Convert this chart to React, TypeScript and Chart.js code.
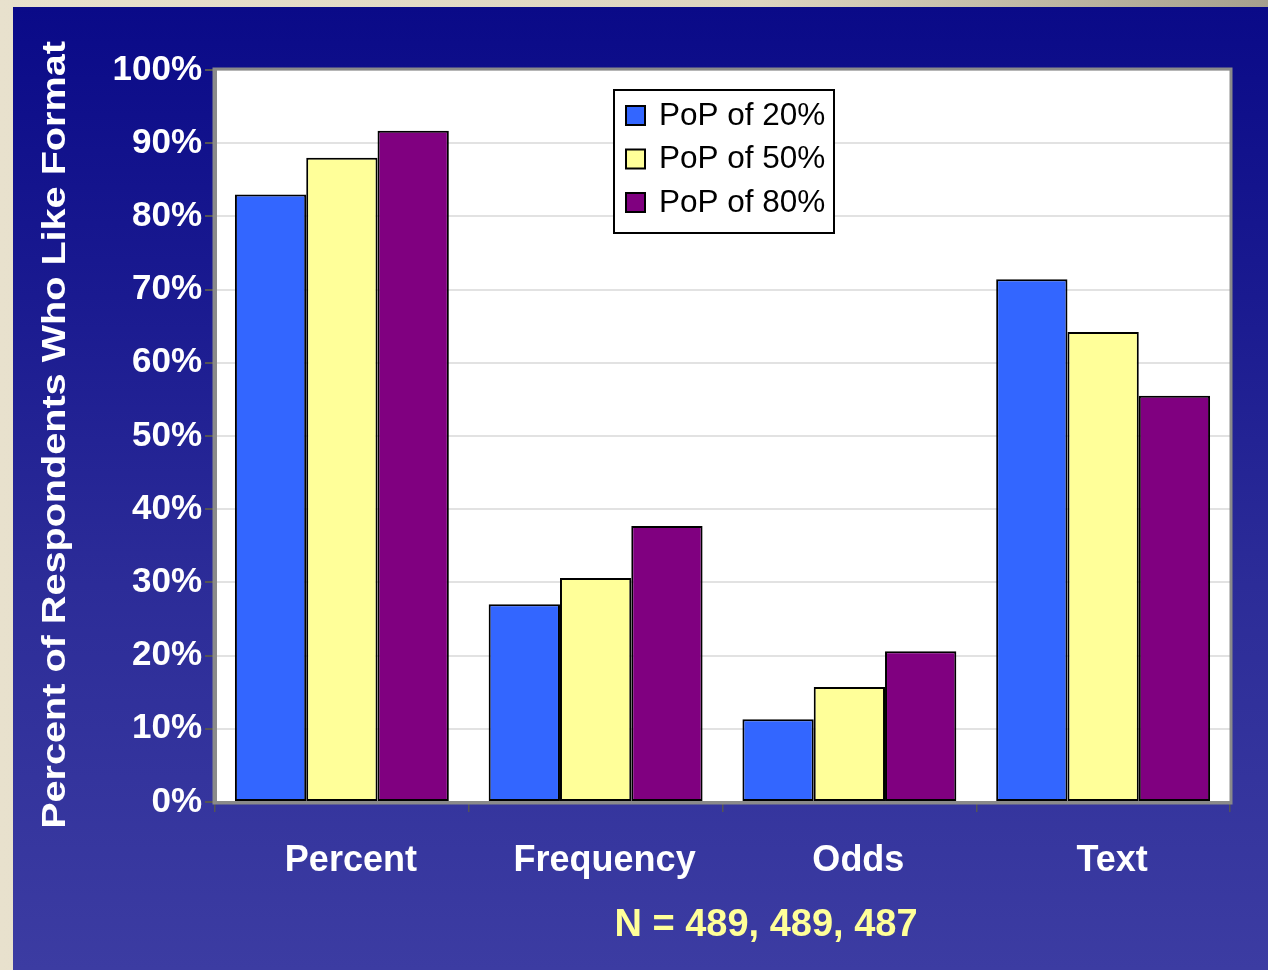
import React, { useEffect, useRef } from "react";
import { Chart, registerables } from "chart.js";

Chart.register(...registerables);

const categories = ["Percent", "Frequency", "Odds", "Text"];
const pop20 = [83, 27, 11.3, 71.4];
const pop50 = [88, 30.6, 15.7, 64.2];
const pop80 = [91.7, 37.7, 20.6, 55.5];
const seriesLabels = ["PoP of 20%", "PoP of 50%", "PoP of 80%"];
const seriesColors = ["#3366ff", "#ffff99", "#800080"];
const yTitle = "Percent of Respondents Who Like Format";
const noteText = "N = 489, 489, 487";

const FONT = "'Liberation Sans', Arial, sans-serif";

const plotBgPlugin = {
  id: "plotBg",
  beforeDraw(chart: any) {
    const { ctx, chartArea: a } = chart;
    ctx.save();
    ctx.fillStyle = "#ffffff";
    ctx.fillRect(a.left, a.top, a.right - a.left, a.bottom - a.top);
    ctx.restore();
  },
  afterDraw(chart: any) {
    const { ctx, chartArea: a } = chart;
    ctx.save();
    ctx.strokeStyle = "#8a8a8a";
    ctx.lineWidth = 3;
    ctx.strokeRect(a.left - 1, a.top - 1, a.right - a.left + 2, a.bottom - a.top + 2);
    ctx.restore();
  },
};

const titlePlugin = {
  id: "yTitle",
  afterDraw(chart: any) {
    const { ctx, chartArea: a } = chart;
    ctx.save();
    ctx.translate(43, (a.top + a.bottom) / 2 - 1);
    ctx.rotate(-Math.PI / 2);
    ctx.scale(1.2, 1);
    ctx.font = `bold 33px ${FONT}`;
    ctx.fillStyle = "#ffffff";
    ctx.textAlign = "center";
    ctx.textBaseline = "middle";
    ctx.fillText(yTitle, 0, 0);
    ctx.restore();
  },
};

const legendPlugin = {
  id: "boxLegend",
  afterDraw(chart: any) {
    const { ctx, chartArea: a } = chart;
    const x = a.left + 399;
    const y = a.top + 20;
    const w = 220;
    const h = 143;
    ctx.save();
    ctx.fillStyle = "#ffffff";
    ctx.fillRect(x, y, w, h);
    ctx.strokeStyle = "#000000";
    ctx.lineWidth = 2;
    ctx.strokeRect(x, y, w, h);
    ctx.font = `31.5px ${FONT}`;
    ctx.textBaseline = "middle";
    chart.data.datasets.forEach((ds: any, i: number) => {
      const cy = y + 25 + i * 43.5;
      ctx.fillStyle = ds.backgroundColor;
      ctx.fillRect(x + 12, cy - 9, 19, 19);
      ctx.strokeStyle = "#000";
      ctx.lineWidth = 2;
      ctx.strokeRect(x + 12, cy - 9, 19, 19);
      ctx.fillStyle = "#000";
      ctx.fillText(ds.label, x + 45, cy + 1);
    });
    ctx.restore();
  },
};

const notePlugin = {
  id: "note",
  afterDraw(chart: any) {
    const { ctx } = chart;
    ctx.save();
    ctx.font = `bold 38px ${FONT}`;
    ctx.fillStyle = "#ffff99";
    ctx.textAlign = "center";
    ctx.textBaseline = "middle";
    ctx.fillText(noteText, 753, 919);
    ctx.restore();
  },
};

export default function App() {
  const ref = useRef<HTMLCanvasElement>(null);
  useEffect(() => {
    const chart = new Chart(ref.current as HTMLCanvasElement, {
      type: "bar",
      data: {
        labels: categories,
        datasets: [pop20, pop50, pop80].map((d, i) => ({
          label: seriesLabels[i],
          data: d,
          backgroundColor: seriesColors[i],
          borderColor: "#000000",
          borderWidth: 2,
          borderSkipped: false,
          categoryPercentage: 0.843,
          barPercentage: 1,
        })),
      },
      options: {
        responsive: false,
        animation: false,
        layout: { padding: { top: 63, right: 38, left: 0, bottom: 0 } },
        plugins: { legend: { display: false }, tooltip: { enabled: false } },
        scales: {
          x: {
            afterFit: (s: any) => { s.height = 168; },
            grid: { drawOnChartArea: false, offset: true, tickLength: 10, color: "#555", lineWidth: 1.5 },
            border: { color: "#8a8a8a", width: 3 },
            ticks: { color: "#ffffff", padding: 27, labelOffset: 9, font: { family: FONT, size: 36, weight: "bold" } },
          },
          y: {
            min: 0,
            max: 100,
            afterFit: (s: any) => { s.width = 202; },
            ticks: {
              stepSize: 10,
              color: "#ffffff",
              padding: 3,
              font: { family: FONT, size: 35, weight: "bold" },
              callback: (v: any) => v + "%",
            },
            grid: { color: "#e2e2e2", lineWidth: 2, tickLength: 10, tickColor: "#555" },
            border: { color: "#8a8a8a", width: 3 },
            title: { display: false },
          },
        },
      },
      plugins: [plotBgPlugin, titlePlugin, legendPlugin, notePlugin],
    } as any);
    return () => chart.destroy();
  }, []);
  return (
    <div
      style={{
        position: "fixed",
        left: 0,
        top: 0,
        width: 1268,
        height: 970,
        background: "linear-gradient(90deg, #e8e1cd 0%, #ddd5c0 60%, #a6a08e 100%)",
      }}
    >
      <div
        style={{
          position: "absolute",
          left: 13,
          top: 7,
          width: 1255,
          height: 963,
          background: "linear-gradient(180deg, #0a0a88 0%, #1a1a90 30%, #2c2c98 60%, #3c3ca2 100%)",
        }}
      >
        <canvas ref={ref} width={1255} height={963} style={{ display: "block" }} />
      </div>
    </div>
  );
}
